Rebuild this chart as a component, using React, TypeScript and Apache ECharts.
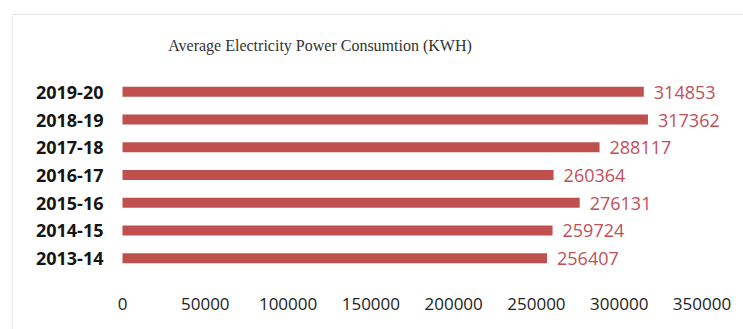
import React, { useEffect, useRef } from "react";
import * as echarts from "echarts";

// Financial years, bottom to top on the category axis
const years = ["2013-14", "2014-15", "2015-16", "2016-17", "2017-18", "2018-19", "2019-20"];
// Average consumption per year (KWH)
const consumption = [256407, 259724, 276131, 260364, 288117, 317362, 314853];
// Value axis range
const axisMin = 0;
const axisMax = 350000;
const axisStep = 50000;

const titleText = "Average Electricity Power Consumtion (KWH)";

export default function App() {
  const ref = useRef<HTMLDivElement>(null);

  useEffect(() => {
    if (!ref.current) return;
    const chart = echarts.init(ref.current, null, { renderer: "svg" });
    const barColor = "#c0504d";
    chart.setOption({
      animation: false,
      backgroundColor: "#ffffff",
      grid: { left: 122.5, right: 41, top: 78, bottom: 57, containLabel: false },
      xAxis: {
        type: "value",
        min: axisMin,
        max: axisMax,
        interval: axisStep,
        axisLine: { show: false },
        axisTick: { show: false },
        splitLine: { show: false },
        axisLabel: {
          color: "#222",
          fontFamily: "Open Sans",
          fontSize: 17,
          margin: 23,
          formatter: (v: number) => String(v),
        },
      },
      yAxis: {
        type: "category",
        data: years,
        axisLine: { show: false },
        axisTick: { show: false },
        splitLine: { show: false },
        axisLabel: {
          color: "#151515",
          fontFamily: "Open Sans",
          fontWeight: "bold",
          fontSize: 18,
          margin: 19,
        },
      },
      series: [
        {
          type: "bar",
          data: consumption,
          barWidth: 10,
          itemStyle: { color: barColor },
          label: {
            show: true,
            position: "right",
            distance: 10,
            color: "#c0505a",
            fontFamily: "Open Sans",
            fontSize: 18,
          },
        },
      ],
      graphic: [
        {
          type: "line",
          shape: { x1: 12, y1: 14.5, x2: 743, y2: 14.5 },
          style: { stroke: "#e4e4e4", lineWidth: 1 },
        },
        {
          type: "line",
          shape: { x1: 12.5, y1: 14, x2: 12.5, y2: 329 },
          style: { stroke: "#ececec", lineWidth: 1 },
        },
        {
          type: "text",
          x: 320,
          y: 45,
          style: {
            text: titleText,
            fill: "#333",
            font: "16px 'Liberation Serif'",
            textAlign: "center",
            textVerticalAlign: "middle",
          },
        },
      ],
    });
    return () => chart.dispose();
  }, []);

  return (
    <div
      ref={ref}
      style={{ position: "fixed", left: 0, top: 0, width: 743, height: 329 }}
    />
  );
}
